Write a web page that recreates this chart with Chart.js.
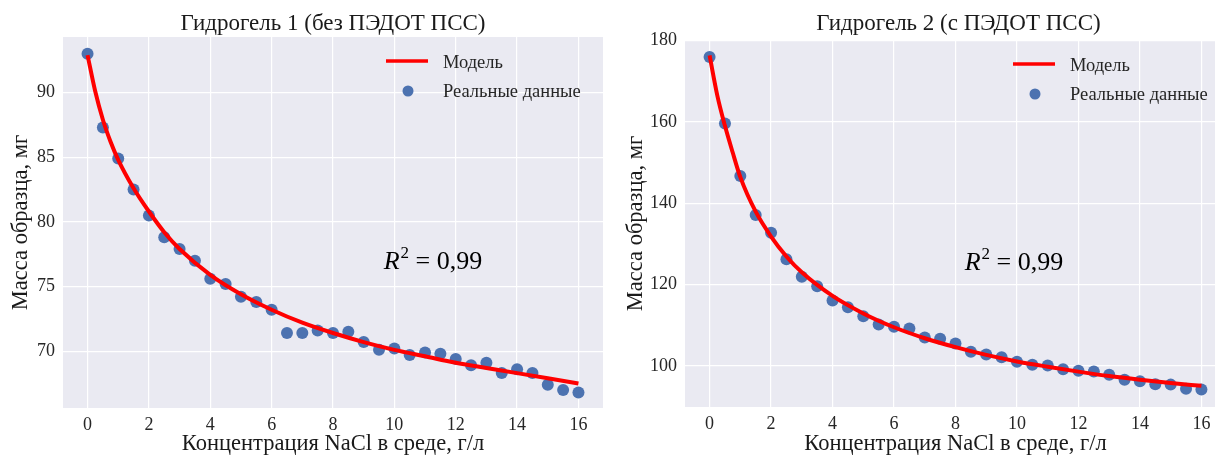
<!DOCTYPE html>
<html>
<head>
<meta charset="utf-8">
<script src="https://cdn.jsdelivr.net/npm/chart.js@4/dist/chart.umd.min.js"></script>
<style>
  html, body { margin: 0; padding: 0; background: #fff; overflow: hidden; width: 1215px; height: 458px; }
  .box { position: absolute; top: 0; }
</style>
</head>
<body>
<div class="box" style="left:0px"><canvas id="gel1" width="610" height="458"></canvas></div>
<div class="box" style="left:615px"><canvas id="gel2" width="620" height="458"></canvas></div>
<script>
// measured NaCl concentrations, g/l
var concX = [0, 0.5, 1, 1.5, 2, 2.5, 3, 3.5, 4, 4.5, 5, 5.5, 6, 6.5, 7, 7.5, 8,
             8.5, 9, 9.5, 10, 10.5, 11, 11.5, 12, 12.5, 13, 13.5, 14, 14.5, 15, 15.5, 16];
// sample mass, mg
var mass1 = [93.0, 87.3, 84.9, 82.5, 80.5, 78.8, 77.9, 77.0, 75.6, 75.2, 74.2, 73.8, 73.2,
             71.4, 71.4, 71.6, 71.4, 71.5, 70.7, 70.1, 70.2, 69.7, 69.9, 69.8, 69.4, 68.9,
             69.1, 68.3, 68.6, 68.3, 67.4, 67.0, 66.8];
var mass2 = [175.9, 159.6, 146.7, 137.1, 132.7, 126.2, 121.9, 119.6, 116.1, 114.4, 112.2,
             110.2, 109.6, 109.2, 107.0, 106.7, 105.5, 103.5, 102.8, 102.1, 101.0, 100.3,
             100.1, 99.2, 98.8, 98.6, 97.8, 96.6, 96.2, 95.5, 95.4, 94.4, 94.2];
// fitted model curve, sampled off the plots
var modelX  = [0, 0.25, 0.5, 0.75, 1, 1.5, 2, 2.5, 3, 4, 5, 6, 7, 8, 9, 10, 11, 12, 13, 14, 15, 16];
var model1 = [92.9, 90.1, 87.9, 86.2, 84.8, 82.6, 80.8, 79.2, 77.9, 75.9, 74.4, 73.2, 72.2,
              71.4, 70.7, 70.1, 69.6, 69.1, 68.7, 68.3, 67.9, 67.5];
var model2 = [176.3, 166.5, 159.0, 152.5, 146.4, 137.9, 131.8, 126.9, 123.0, 117.2, 112.9,
              109.5, 106.8, 104.6, 102.7, 101.1, 99.8, 98.6, 97.5, 96.6, 95.8, 95.1];

var xTicks  = [0, 2, 4, 6, 8, 10, 12, 14, 16];
var yTicks1 = [70, 75, 80, 85, 90];
var yTicks2 = [100, 120, 140, 160, 180];

var serif = "'Liberation Serif', 'Times New Roman', serif";
var dark = '#262626';

function pts(xs, ys) {
  return xs.map(function (x, i) { return { x: x, y: ys[i] }; });
}

// grey axes face, title, legend and R^2 note
var decor = {
  id: 'decor',
  beforeDraw: function (chart) {
    var a = chart.chartArea, ctx = chart.ctx;
    ctx.save();
    ctx.fillStyle = '#EAEAF2';
    ctx.fillRect(a.left, a.top, a.right - a.left, a.bottom - a.top);
    ctx.restore();
  },
  afterDraw: function (chart, args, o) {
    var a = chart.chartArea, ctx = chart.ctx;
    ctx.save();
    ctx.fillStyle = '#1a1a1a';
    ctx.font = '23px ' + serif;
    ctx.textAlign = 'center';
    ctx.textBaseline = 'alphabetic';
    ctx.fillText(o.title, (a.left + a.right) / 2 + o.titleShift, 30);

    // legend
    var tx = a.right - o.legendInset;
    ctx.font = '18.5px ' + serif;
    ctx.textAlign = 'left';
    ctx.textBaseline = 'middle';
    ctx.fillStyle = dark;
    ctx.fillText('Модель', tx, a.top + 26.5);
    ctx.fillText('Реальные данные', tx, a.top + 55.5);
    ctx.strokeStyle = '#ff0000';
    ctx.lineWidth = 3.5;
    ctx.beginPath();
    ctx.moveTo(tx - 57, a.top + 24);
    ctx.lineTo(tx - 15, a.top + 24);
    ctx.stroke();
    ctx.fillStyle = '#4C72B0';
    ctx.beginPath();
    ctx.arc(tx - 35, a.top + 54, 5.5, 0, Math.PI * 2);
    ctx.fill();

    // R^2 = 0,99
    var px = chart.scales.x.getPixelForValue(o.noteX);
    var py = chart.scales.y.getPixelForValue(o.noteY);
    ctx.fillStyle = '#000';
    ctx.textBaseline = 'alphabetic';
    ctx.font = 'italic 26px ' + serif;
    ctx.fillText('R', px, py);
    var w = ctx.measureText('R').width;
    ctx.font = '17px ' + serif;
    ctx.fillText('2', px + w + 1, py - 11);
    var w2 = ctx.measureText('2').width;
    ctx.font = '26px ' + serif;
    ctx.fillText(' = 0,99', px + w + w2 + 1, py);
    ctx.restore();
  }
};

function makeChart(id, mass, model, yTicks, lim, box) {
  return new Chart(document.getElementById(id), {
    data: {
      datasets: [{
        type: 'line',
        label: 'Модель',
        data: pts(modelX, model),
        borderColor: '#ff0000',
        borderWidth: 4,
        pointRadius: 0,
        cubicInterpolationMode: 'monotone',
        fill: false
      }, {
        type: 'scatter',
        label: 'Реальные данные',
        data: pts(concX, mass),
        backgroundColor: '#4C72B0',
        borderWidth: 0,
        pointRadius: 6
      }]
    },
    options: {
      responsive: false,
      animation: false,
      devicePixelRatio: 1,
      layout: { padding: { top: box.top, right: box.right, bottom: 0, left: 0 } },
      plugins: {
        legend: { display: false },
        tooltip: { enabled: false },
        decor: lim.decor
      },
      scales: {
        x: {
          type: 'linear',
          min: -0.8,
          max: 16.8,
          afterBuildTicks: function (s) { s.ticks = xTicks.map(function (v) { return { value: v }; }); },
          afterFit: function (s) { s.height = box.xh; },
          grid: { color: '#ffffff', lineWidth: 1.2, drawTicks: false },
          border: { display: false },
          ticks: { color: dark, padding: 6, font: { family: serif, size: 18 }, maxRotation: 0 },
          title: {
            display: true,
            text: 'Концентрация NaCl в среде, г/л',
            color: '#1a1a1a',
            font: { family: serif, size: 22.5 },
            padding: { top: 0, bottom: 0 }
          }
        },
        y: {
          type: 'linear',
          min: lim.ymin,
          max: lim.ymax,
          afterBuildTicks: function (s) { s.ticks = yTicks.map(function (v) { return { value: v }; }); },
          afterFit: function (s) { s.width = box.yw; },
          grid: { color: '#ffffff', lineWidth: 1.2, drawTicks: false },
          border: { display: false },
          ticks: { color: dark, padding: 8, font: { family: serif, size: 18 } },
          title: {
            display: true,
            text: 'Масса образца, мг',
            color: '#1a1a1a',
            font: { family: serif, size: 22.5 },
            padding: { top: 7.5, bottom: 0 }
          }
        }
      }
    },
    plugins: [decor]
  });
}

makeChart('gel1', mass1, model1, yTicks1,
  { ymin: 65.6, ymax: 94.3,
    decor: { title: 'Гидрогель 1 (без ПЭДОТ ПСС)', titleShift: 0, legendInset: 160, noteX: 9.65, noteY: 76.35 } },
  { top: 37, right: 7, yw: 63, xh: 50 });

makeChart('gel2', mass2, model2, yTicks2,
  { ymin: 89.9, ymax: 180.1,
    decor: { title: 'Гидрогель 2 (с ПЭДОТ ПСС)', titleShift: 3, legendInset: 156, noteX: 8.3, noteY: 123.6 } },
  { top: 40, right: 9, yw: 70, xh: 51 });
</script>
</body>
</html>
